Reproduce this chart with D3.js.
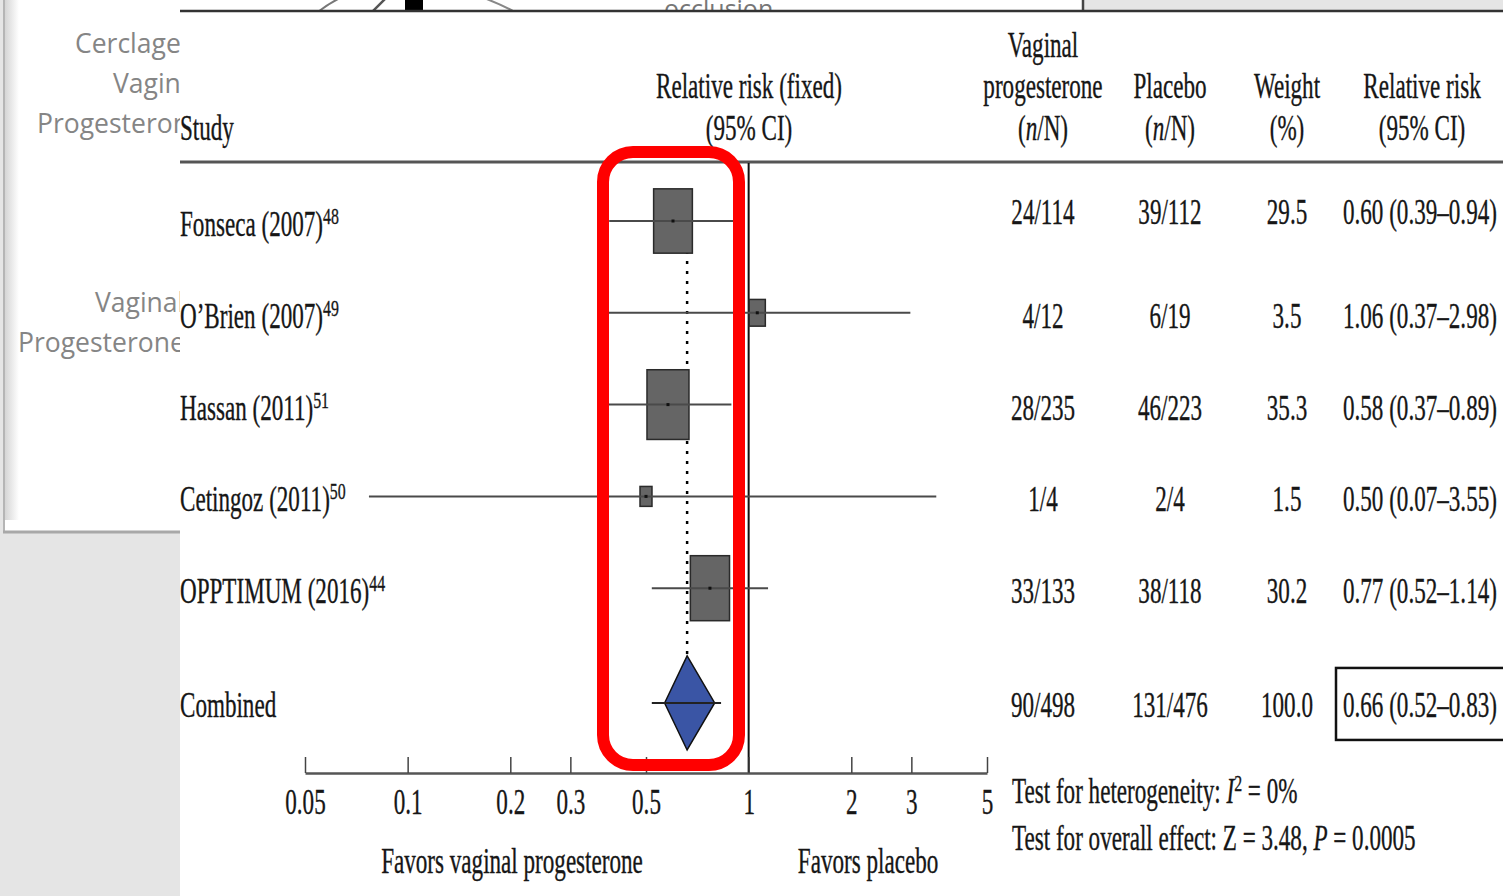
<!DOCTYPE html>
<html><head><meta charset="utf-8">
<script src="https://cdn.jsdelivr.net/npm/d3@7"></script>
<style>
html,body{margin:0;padding:0;background:#e6e6e6;overflow:hidden}
.serif{font-family:"Liberation Serif","DejaVu Serif","Times New Roman",serif;}
</style>
</head><body><svg id="c" width="1503" height="896"></svg>
<script>
// ---- data ----
const studies = ["Fonseca (2007)", "O\u2019Brien (2007)", "Hassan (2011)", "Cetingoz (2011)", "OPPTIMUM (2016)"];
const refs = ["48", "49", "51", "50", "44"];
const rr = [0.60, 1.06, 0.58, 0.50, 0.77];
const ciLow = [0.39, 0.37, 0.37, 0.077, 0.52];
const ciHigh = [0.94, 2.98, 0.89, 3.55, 1.14];
const weights = [29.5, 3.5, 35.3, 1.5, 30.2];
const vpText = ["24/114", "4/12", "28/235", "1/4", "33/133"];
const plText = ["39/112", "6/19", "46/223", "2/4", "38/118"];
const wText = ["29.5", "3.5", "35.3", "1.5", "30.2"];
const rrText = ["0.60 (0.39\u20130.94)", "1.06 (0.37\u20132.98)", "0.58 (0.37\u20130.89)", "0.50 (0.07\u20133.55)", "0.77 (0.52\u20131.14)"];
const pooled = [0.66, 0.52, 0.83];          // estimate, low, high
const diamondSpan = [0.567, 0.795];         // diamond ends as drawn
const combinedText = ["Combined", "90/498", "131/476", "100.0", "0.66 (0.52\u20130.83)"];
const tickValues = [0.05, 0.1, 0.2, 0.3, 0.5, 1, 2, 3, 5];
const tickLabels = ["0.05", "0.1", "0.2", "0.3", "0.5", "1", "2", "3", "5"];
const leftLabels = [["Cerclage", 75, 53], ["Vaginal", 113, 93], ["Progesterone", 37, 133], ["Vaginal", 95, 312], ["Progesterone", 18, 352]];

// ---- setup ----
const svg = d3.select("#c");
const SX = 0.66;
const INK = "#161616";
function txt(parent, x, y, str, anchor = "middle", size = 35) {
  return parent.append("text").attr("class", "serif")
    .attr("transform", `translate(${x},${y}) scale(${SX},1)`)
    .attr("text-anchor", anchor)
    .attr("font-size", size).attr("fill", INK)
    .attr("stroke", INK).attr("stroke-width", 0.35).text(str);
}

const x = d3.scaleLog().domain([0.05, 5]).range([305, 987]);
const y = d3.scaleLinear().domain([0, 5]).range([221, 680]);
const boxW = d3.scaleSqrt().domain([0, 35.3]).range([4.2, 42]);
const BOX_ASPECT = 1.66;

// ---- page background ----
svg.append("rect").attr("width", 1503).attr("height", 896).attr("fill", "#e5e5e5");
const defs = svg.append("defs");
const lg = defs.append("linearGradient").attr("id", "edge").attr("x1", 0).attr("x2", 1);
lg.append("stop").attr("offset", 0).attr("stop-color", "#cfcfcf");
lg.append("stop").attr("offset", 1).attr("stop-color", "#ffffff");
defs.append("clipPath").attr("id", "topclip").append("rect").attr("x", 180).attr("y", 0).attr("width", 903).attr("height", 10);

// left panel
svg.append("rect").attr("x", 3).attr("y", 0).attr("width", 180).attr("height", 532).attr("fill", "#fff");
svg.append("rect").attr("x", 3).attr("y", 0).attr("width", 16).attr("height", 520).attr("fill", "url(#edge)");
svg.append("line").attr("x1", 4).attr("x2", 4).attr("y1", 0).attr("y2", 532).attr("stroke", "#b5b5b5").attr("stroke-width", 2);
svg.append("line").attr("x1", 3).attr("x2", 182).attr("y1", 532).attr("y2", 532).attr("stroke", "#a8a8a8").attr("stroke-width", 3);
svg.append("g").selectAll("text").data(leftLabels).join("text")
  .attr("x", d => d[1]).attr("y", d => d[2])
  .attr("font-family", "'Open Sans','Noto Sans',sans-serif").attr("font-size", 26.5)
  .attr("fill", "#858585").text(d => d[0]);

// top strip (fragment of previous figure)
svg.append("rect").attr("x", 180).attr("y", 0).attr("width", 903).attr("height", 11).attr("fill", "#fff");
const frag = svg.append("g").attr("clip-path", "url(#topclip)");
frag.append("path").attr("d", "M318,12 Q328,4 340,-2").attr("fill", "none").attr("stroke", "#777").attr("stroke-width", 2);
frag.append("path").attr("d", "M372,12 L386,-2").attr("fill", "none").attr("stroke", "#555").attr("stroke-width", 2.5);
frag.append("rect").attr("x", 405).attr("y", -2).attr("width", 18).attr("height", 14).attr("fill", "#000");
frag.append("path").attr("d", "M484,-2 Q500,4 515,12").attr("fill", "none").attr("stroke", "#888").attr("stroke-width", 2);
frag.append("text").attr("x", 664).attr("y", 18).attr("font-family", "'Open Sans',sans-serif").attr("font-size", 25).attr("fill", "#777").text("occlusion");
svg.append("line").attr("x1", 1083).attr("x2", 1083).attr("y1", 0).attr("y2", 11).attr("stroke", "#444").attr("stroke-width", 2.5);

// forest figure panel
svg.append("rect").attr("x", 180).attr("y", 11).attr("width", 1323).attr("height", 885).attr("fill", "#fff");
svg.append("line").attr("x1", 180).attr("x2", 1503).attr("y1", 11).attr("y2", 11).attr("stroke", "#333").attr("stroke-width", 2.5);

// header
const hd = svg.append("g");
txt(hd, 180, 140, "Study", "start");
txt(hd, 749, 98, "Relative risk (fixed)");
txt(hd, 749, 140, "(95% CI)");
txt(hd, 1043, 57, "Vaginal");
txt(hd, 1043, 98, "progesterone");
function nN(cx) {
  const t = txt(hd, cx, 140, "(");
  t.append("tspan").attr("font-style", "italic").text("n");
  t.append("tspan").text("/N)");
}
nN(1043);
txt(hd, 1170, 98, "Placebo");
nN(1170);
txt(hd, 1287, 98, "Weight");
txt(hd, 1287, 140, "(%)");
txt(hd, 1422, 98, "Relative risk");
txt(hd, 1422, 140, "(95% CI)");
svg.append("line").attr("x1", 180).attr("x2", 1503).attr("y1", 162).attr("y2", 162).attr("stroke", "#555").attr("stroke-width", 3);

// line of no effect
svg.append("line").attr("x1", x(1)).attr("x2", x(1)).attr("y1", 163).attr("y2", 773).attr("stroke", "#111").attr("stroke-width", 2);

// dotted pooled line
svg.append("line").attr("x1", x(pooled[0])).attr("x2", x(pooled[0]))
  .attr("y1", y(0)).attr("y2", y(5.25) - 47)
  .attr("stroke", "#000").attr("stroke-width", 2.5).attr("stroke-dasharray", "3,7");

// study rows
const rows = svg.append("g").selectAll("g").data(studies).join("g");
rows.append("rect")
  .attr("x", (d, i) => x(rr[i]) - boxW(weights[i]) / 2)
  .attr("y", (d, i) => y(i) - boxW(weights[i]) * BOX_ASPECT / 2)
  .attr("width", (d, i) => boxW(weights[i]))
  .attr("height", (d, i) => boxW(weights[i]) * BOX_ASPECT)
  .attr("fill", "#656565").attr("stroke", "#2a2a2a").attr("stroke-width", 1.5);
rows.append("line")
  .attr("x1", (d, i) => x(ciLow[i])).attr("x2", (d, i) => x(ciHigh[i]))
  .attr("y1", (d, i) => y(i)).attr("y2", (d, i) => y(i))
  .attr("stroke", "#4a4a4a").attr("stroke-width", 2);
rows.append("rect")
  .attr("x", (d, i) => x(rr[i]) - 1.5).attr("y", (d, i) => y(i) - 1.5)
  .attr("width", 3).attr("height", 3).attr("fill", "#111");
rows.each(function (d, i) {
  const g = d3.select(this);
  const yy = y(i) + 15;
  const lab = txt(g, 180, yy, d, "start");
  lab.append("tspan").attr("font-size", 24).attr("dy", -12).text(refs[i]);
  const ny = i === 0 ? yy - 12 : yy;
  txt(g, 1043, ny, vpText[i]);
  txt(g, 1170, ny, plText[i]);
  txt(g, 1287, ny, wText[i]);
  txt(g, 1343, ny, rrText[i], "start");
});

// combined
const yc = y(5.25);
const cg = svg.append("g");
cg.append("path")
  .attr("d", `M${x(diamondSpan[0])},${yc} L${x(pooled[0])},${yc - 47} L${x(diamondSpan[1])},${yc} L${x(pooled[0])},${yc + 47} Z`)
  .attr("fill", "#3a55a5").attr("stroke", "#111").attr("stroke-width", 1.5);
cg.append("line").attr("x1", x(pooled[1])).attr("x2", x(pooled[2])).attr("y1", yc).attr("y2", yc)
  .attr("stroke", "#222").attr("stroke-width", 2);
txt(cg, 180, yc + 14, combinedText[0], "start");
txt(cg, 1043, yc + 14, combinedText[1]);
txt(cg, 1170, yc + 14, combinedText[2]);
txt(cg, 1287, yc + 14, combinedText[3]);
txt(cg, 1343, yc + 14, combinedText[4], "start");
cg.append("rect").attr("x", 1336).attr("y", yc - 35).attr("width", 200).attr("height", 72)
  .attr("fill", "none").attr("stroke", "#111").attr("stroke-width", 2.5);

// axis
const axis = d3.axisBottom(x).tickValues(tickValues)
  .tickFormat((d, i) => tickLabels[i]).tickSizeInner(-16).tickSizeOuter(0);
const ag = svg.append("g").attr("transform", "translate(0,773)").call(axis);
ag.attr("font-family", null);
ag.select(".domain").attr("stroke", "#555").attr("stroke-width", 2.5);
ag.selectAll(".tick line").attr("stroke", "#444").attr("stroke-width", 1.5);
ag.selectAll(".tick text").attr("class", "serif").attr("y", 41).attr("dy", 0)
  .attr("font-size", 35).attr("fill", INK).attr("stroke", INK).attr("stroke-width", 0.35)
  .attr("transform", `scale(${SX},1)`);

txt(svg, 512, 873, "Favors vaginal progesterone");
txt(svg, 868, 873, "Favors placebo");

// test statistics
const t1 = txt(svg, 1012, 803, "Test for heterogeneity: ", "start");
t1.append("tspan").attr("font-style", "italic").text("I");
t1.append("tspan").attr("font-size", 24).attr("dy", -12).text("2");
t1.append("tspan").attr("dy", 12).text(" = 0%");
const t2 = txt(svg, 1012, 850, "Test for overall effect: Z = 3.48, ", "start");
t2.append("tspan").attr("font-style", "italic").text("P");
t2.append("tspan").text(" = 0.0005");

// red highlight box
svg.append("rect").attr("x", 603).attr("y", 152).attr("width", 136).attr("height", 613)
  .attr("rx", 30).attr("fill", "none").attr("stroke", "#ff0000").attr("stroke-width", 12);
</script></body></html>
